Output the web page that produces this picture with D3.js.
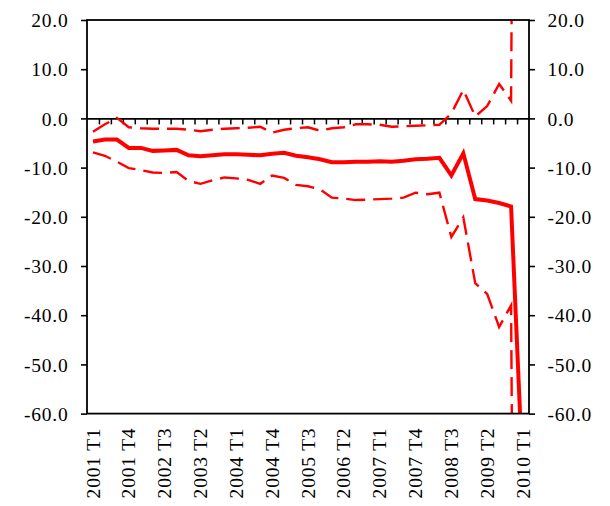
<!DOCTYPE html>
<html>
<head>
<meta charset="utf-8">
<script src="https://cdn.jsdelivr.net/npm/d3@7"></script>
<style>
  html, body { margin: 0; padding: 0; background: #fff; }
  svg text { font-family: "Liberation Serif", "Times New Roman", serif; fill: #000; }
</style>
</head>
<body>
<svg id="chart" width="610" height="506"></svg>
<script>
// ---- data ----
const categories = [
  "2001 T1","2001 T2","2001 T3","2001 T4",
  "2002 T1","2002 T2","2002 T3","2002 T4",
  "2003 T1","2003 T2","2003 T3","2003 T4",
  "2004 T1","2004 T2","2004 T3","2004 T4",
  "2005 T1","2005 T2","2005 T3","2005 T4",
  "2006 T1","2006 T2","2006 T3","2006 T4",
  "2007 T1","2007 T2","2007 T3","2007 T4",
  "2008 T1","2008 T2","2008 T3","2008 T4",
  "2009 T1","2009 T2","2009 T3","2009 T4",
  "2010 T1"
];
const central = [
  -4.7, -4.3, -4.3, -6.0, -6.0, -6.6, -6.5, -6.4, -7.5, -7.7, -7.5, -7.3,
  -7.3, -7.4, -7.5, -7.2, -7.0, -7.6, -7.9, -8.3, -8.9, -8.9, -8.8, -8.8,
  -8.7, -8.8, -8.6, -8.3, -8.2, -8.0, -11.6, -7.1, -16.4, -16.7, -17.2, -17.9,
  -74.0
];
const upper = [
  -2.7, -1.2, 0.1, -1.8, -2.0, -2.1, -2.1, -2.1, -2.3, -2.6, -2.3, -2.1,
  -2.0, -1.9, -1.7, -2.9, -2.3, -2.0, -1.8, -2.5, -2.0, -1.8, -1.2, -1.2,
  -1.3, -1.7, -1.6, -1.5, -1.4, -1.3, 1.0, 5.8, 0.4, 2.5, 7.0, 3.6,
  400.0
];
const lower = [
  -6.9, -7.6, -8.8, -10.1, -10.5, -11.0, -11.1, -10.9, -12.7, -13.3, -12.6, -12.0,
  -12.2, -12.5, -13.3, -11.6, -12.1, -13.5, -13.8, -14.4, -16.1, -16.3, -16.6, -16.5,
  -16.4, -16.3, -16.1, -15.1, -15.4, -15.1, -24.1, -20.1, -33.5, -35.7, -42.4, -38.0,
  -400.0
];
const yTicks = [20, 10, 0, -10, -20, -30, -40, -50, -60];
const xTickLabels = categories.filter((d, i) => i % 3 === 0);

// ---- layout ----
const svg = d3.select("#chart");
const L = 87, R = 529, T = 20, B = 413.6;

const x = d3.scaleBand().domain(categories).range([L, R]).padding(0);
const xc = d => x(d) + x.bandwidth() / 2;
const y = d3.scaleLinear().domain([-60, 20]).range([B, T]);
const xIdx = d3.scaleLinear().domain([0, categories.length]).range([L, R]);

const fmt = d => d.toFixed(1);

// clip
svg.append("defs").append("clipPath").attr("id", "plotclip")
  .append("rect").attr("x", L).attr("y", T).attr("width", R - L).attr("height", B - T);

// left axis
const gl = svg.append("g").attr("transform", `translate(${L},0)`)
  .call(d3.axisLeft(y).tickValues(yTicks).tickFormat(fmt).tickSize(6).tickSizeOuter(0).tickPadding(12.5));
gl.select(".domain").remove();
// right axis
const gr = svg.append("g").attr("transform", `translate(${R},0)`)
  .call(d3.axisRight(y).tickValues(yTicks).tickFormat(fmt).tickSize(6).tickSizeOuter(0).tickPadding(12.5));
gr.select(".domain").remove();
[gl, gr].forEach(g => {
  g.selectAll(".tick line").attr("stroke", "#000").attr("stroke-width", 1.6);
  g.selectAll(".tick text").attr("font-size", 19.5).attr("letter-spacing", 0.8).attr("dy", "0.34em");
});

// zero line with quarter ticks
const gz = svg.append("g").attr("transform", `translate(0,${y(0)})`)
  .call(d3.axisBottom(xIdx).tickValues(d3.range(1, categories.length)).tickFormat("").tickSize(6).tickSizeOuter(0));
gz.select(".domain").attr("stroke", "#000").attr("stroke-width", 1.6);
gz.selectAll(".tick line").attr("stroke", "#000").attr("stroke-width", 1.5);

// bottom labels
const gb = svg.append("g").attr("transform", `translate(0,${B})`)
  .call(d3.axisBottom(x).tickValues(xTickLabels).tickSize(0).tickPadding(0));
gb.select(".domain").remove();
gb.selectAll(".tick text")
  .attr("font-size", 19.5).attr("letter-spacing", 0.8)
  .attr("text-anchor", "end")
  .attr("transform", "translate(0,14) rotate(-90)")
  .attr("x", 0).attr("y", 0).attr("dy", "0.34em");

// lines
const line = d3.line().x((d, i) => xc(categories[i])).y(d => y(d));
const lines = svg.append("g").attr("clip-path", "url(#plotclip)");
lines.append("path").datum(upper).attr("d", line)
  .attr("fill", "none").attr("stroke", "#ff0000").attr("stroke-width", 2.4)
  .attr("stroke-dasharray", "19,8").attr("stroke-linejoin", "miter");
lines.append("path").datum(lower).attr("d", line)
  .attr("fill", "none").attr("stroke", "#ff0000").attr("stroke-width", 2.4)
  .attr("stroke-dasharray", "19,8").attr("stroke-linejoin", "miter");
lines.append("path").datum(central).attr("d", line)
  .attr("fill", "none").attr("stroke", "#ff0000").attr("stroke-width", 4)
  .attr("stroke-linejoin", "miter");

// frame
svg.append("rect").attr("x", L).attr("y", T).attr("width", R - L).attr("height", B - T)
  .attr("fill", "none").attr("stroke", "#000").attr("stroke-width", 1.8);
</script>
</body>
</html>
